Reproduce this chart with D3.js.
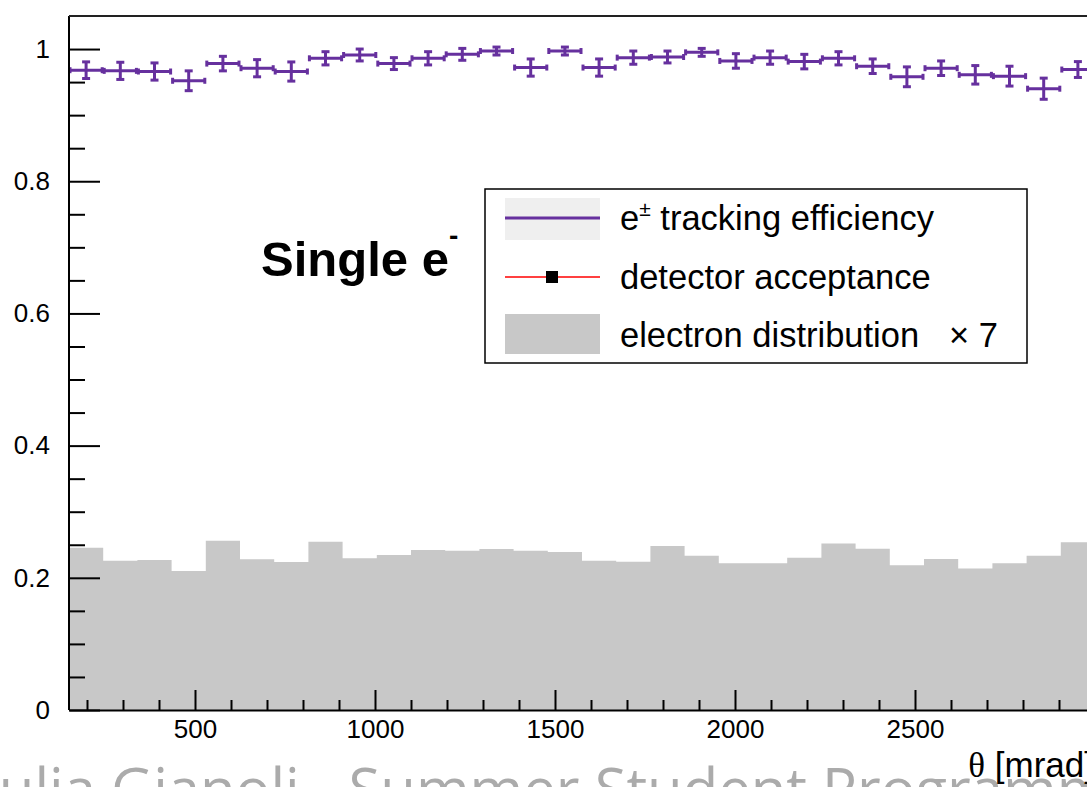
<!DOCTYPE html>
<html>
<head>
<meta charset="utf-8">
<script src="https://cdn.jsdelivr.net/npm/d3@7"></script>
<style>
  body { margin: 0; background: #fff; overflow: hidden; }
  svg { display: block; }
  text { font-family: "Liberation Sans", Arial, Helvetica, sans-serif; }
  .axis path, .axis line { stroke: #000; stroke-width: 2; }
  .axis text { font-size: 26px; fill: #000; font-family: "Liberation Sans", Arial, sans-serif; }
</style>
</head>
<body>
<div class="graphic"></div>
<script>
// theta bins (mrad), lower edges, width 95
const binLow = [150, 245, 340, 435, 530, 625, 720, 815, 910, 1005,
                1100, 1195, 1290, 1385, 1480, 1575, 1670, 1765, 1860, 1955,
                2050, 2145, 2240, 2335, 2430, 2525, 2620, 2715, 2810, 2905];
const binWidth = 95;

// e+- tracking efficiency and its error
const efficiency = [0.968, 0.967, 0.966, 0.952, 0.978, 0.971, 0.966, 0.986, 0.991, 0.978,
                    0.986, 0.992, 0.997, 0.972, 0.997, 0.972, 0.987, 0.988, 0.995, 0.982,
                    0.987, 0.981, 0.986, 0.974, 0.958, 0.971, 0.961, 0.959, 0.940, 0.969];
const effError = [0.0126, 0.013, 0.013, 0.015, 0.011, 0.013, 0.0145, 0.010, 0.009, 0.009,
                  0.010, 0.009, 0.006, 0.013, 0.006, 0.013, 0.010, 0.009, 0.006, 0.011,
                  0.010, 0.011, 0.010, 0.011, 0.015, 0.011, 0.014, 0.015, 0.016, 0.012];

// electron distribution (x7)
const distribution = [0.2456, 0.2259, 0.227, 0.2103, 0.256, 0.228, 0.224, 0.2546, 0.2295, 0.2345,
                      0.242, 0.241, 0.2436, 0.241, 0.239, 0.226, 0.2244, 0.248, 0.2335, 0.222,
                      0.222, 0.2305, 0.252, 0.244, 0.219, 0.2284, 0.214, 0.222, 0.2335, 0.2537];

const xMajor = [500, 1000, 1500, 2000, 2500];
const xMinor = [200, 300, 400, 600, 700, 800, 900, 1100, 1200, 1300, 1400, 1600, 1700, 1800, 1900,
                2100, 2200, 2300, 2400, 2600, 2700, 2800, 2900];
const yMajor = [0, 0.2, 0.4, 0.6, 0.8, 1];
const yMinor = [0.05, 0.1, 0.15, 0.25, 0.3, 0.35, 0.45, 0.5, 0.55, 0.65, 0.7, 0.75, 0.85, 0.9, 0.95];

const legendLabels = ["tracking efficiency", "detector acceptance", "electron distribution"];

const width = 1087, height = 787;
const purple = "#66309e";

// small helper for straight segments
d3.selection.prototype.at2 = function(x1, y1, x2, y2){
    return this.attr("x1", x1).attr("y1", y1).attr("x2", x2).attr("y2", y2);
};

const svg = d3.select(".graphic").append("svg")
    .attr("width", width)
    .attr("height", height);

const x = d3.scaleLinear().domain([150, 3000]).range([69, 1095]);
const y = d3.scaleLinear().domain([0, 1.05]).range([710, 16]);

const bins = binLow.map((lo, i) => ({
    lo: lo, hi: lo + binWidth, mid: lo + binWidth / 2,
    eff: efficiency[i], err: effError[i], dist: distribution[i]
}));

// gray histogram
const area = d3.area()
    .curve(d3.curveStepAfter)
    .x(d => x(d[0]))
    .y0(y(0))
    .y1(d => y(d[1]));
const steps = bins.map(d => [d.lo, d.dist]);
steps.push([bins[bins.length - 1].hi, bins[bins.length - 1].dist]);
svg.append("path")
    .attr("d", area(steps))
    .attr("fill", "#c8c8c8");

// efficiency points with error bars
const g = svg.append("g")
    .attr("stroke", purple)
    .attr("stroke-width", 3)
    .attr("fill", "none");

bins.forEach(function(d){
    // horizontal bar
    g.append("line").at2(x(d.lo) + 1, y(d.eff), x(d.hi) - 1, y(d.eff));
    g.append("line").at2(x(d.lo) + 1, y(d.eff) - 3, x(d.lo) + 1, y(d.eff) + 3);
    g.append("line").at2(x(d.hi) - 1, y(d.eff) - 3, x(d.hi) - 1, y(d.eff) + 3);
    // vertical error
    g.append("line").at2(x(d.mid), y(d.eff + d.err), x(d.mid), y(d.eff - d.err));
    g.append("line").at2(x(d.mid) - 4, y(d.eff + d.err), x(d.mid) + 4, y(d.eff + d.err));
    g.append("line").at2(x(d.mid) - 4, y(d.eff - d.err), x(d.mid) + 4, y(d.eff - d.err));
});

// axes
const yAxis = svg.append("g").attr("class", "axis")
    .attr("transform", "translate(" + x(150) + ",0)")
    .call(d3.axisLeft(y).tickValues(yMajor).tickSize(-31).tickSizeOuter(0).tickPadding(19)
        .tickFormat(d => d === 0 || d === 1 ? d3.format("d")(d) : d3.format(".1f")(d)));
yAxis.select(".domain").attr("d", "M0," + y(0) + "V" + y(1.05));

svg.append("g").attr("class", "axis")
    .attr("transform", "translate(" + x(150) + ",0)")
    .call(d3.axisLeft(y).tickValues(yMinor).tickSize(-16).tickSizeOuter(0).tickFormat(""))
    .select(".domain").remove();

const xAxis = svg.append("g").attr("class", "axis")
    .attr("transform", "translate(0," + y(0) + ")")
    .call(d3.axisBottom(x).tickValues(xMajor).tickSize(-20).tickSizeOuter(0).tickPadding(10)
        .tickFormat(d3.format("d")));
svg.append("g").attr("class", "axis")
    .attr("transform", "translate(0," + y(0) + ")")
    .call(d3.axisBottom(x).tickValues(xMinor).tickSize(-10).tickSizeOuter(0).tickFormat(""))
    .select(".domain").remove();

// frame top and right
svg.append("path")
    .attr("d", "M" + x(150) + "," + y(1.05) + "H" + x(3000) + "V" + y(0))
    .attr("stroke", "#222")
    .attr("stroke-width", 2)
    .attr("fill", "none");

// watermark
svg.append("text")
    .attr("x", -58)
    .attr("y", 810)
    .style("font-family", "'Open Sans', sans-serif")
    .style("font-size", "58px")
    .style("fill", "#ababab")
    .text("Giulia Gianoli - Summer Student Programme");

// x title
const xt = svg.append("text")
    .attr("x", 1094)
    .attr("y", 777)
    .attr("text-anchor", "end")
    .style("font-size", "35px");
xt.append("tspan").style("font-family", "'Liberation Serif', 'DejaVu Serif', serif").text("θ");
xt.append("tspan").text(" [mrad]");

// Single e-
const st = svg.append("text")
    .attr("x", 261)
    .attr("y", 276)
    .style("font-size", "49px")
    .style("font-weight", "bold");
st.append("tspan").text("Single e");
st.append("tspan").attr("dy", -31).style("font-size", "28px").text("-");

// legend
const leg = svg.append("g");
leg.append("rect")
    .attr("x", 485).attr("y", 189).attr("width", 542).attr("height", 174)
    .attr("fill", "#fff").attr("stroke", "#000").attr("stroke-width", 1.5);

leg.append("rect")
    .attr("x", 505).attr("y", 198).attr("width", 95).attr("height", 42)
    .attr("fill", "#efefef");
leg.append("line").at2(505, 218, 600, 218)
    .attr("stroke", purple).attr("stroke-width", 3);

leg.append("line").at2(505, 277, 600, 277)
    .attr("stroke", "#ff0000").attr("stroke-width", 1.5);
leg.append("rect")
    .attr("x", 546).attr("y", 271).attr("width", 12).attr("height", 12)
    .attr("fill", "#000");

leg.append("rect")
    .attr("x", 505).attr("y", 314).attr("width", 95).attr("height", 40)
    .attr("fill", "#c8c8c8");

const t1 = leg.append("text").attr("x", 620).attr("y", 230).style("font-size", "34.5px");
t1.append("tspan").text("e");
t1.append("tspan").attr("dy", -14).style("font-size", "21px").text("±");
t1.append("tspan").attr("dy", 14).text(" " + legendLabels[0]);

leg.append("text").attr("x", 620).attr("y", 289).style("font-size", "34.5px")
    .text(legendLabels[1]);
leg.append("text").attr("x", 620).attr("y", 347).style("font-size", "34.5px")
    .text(legendLabels[2]);
leg.append("text").attr("x", 998).attr("y", 347).attr("text-anchor", "end")
    .style("font-size", "34.5px").text("× 7");
</script>
</body>
</html>
